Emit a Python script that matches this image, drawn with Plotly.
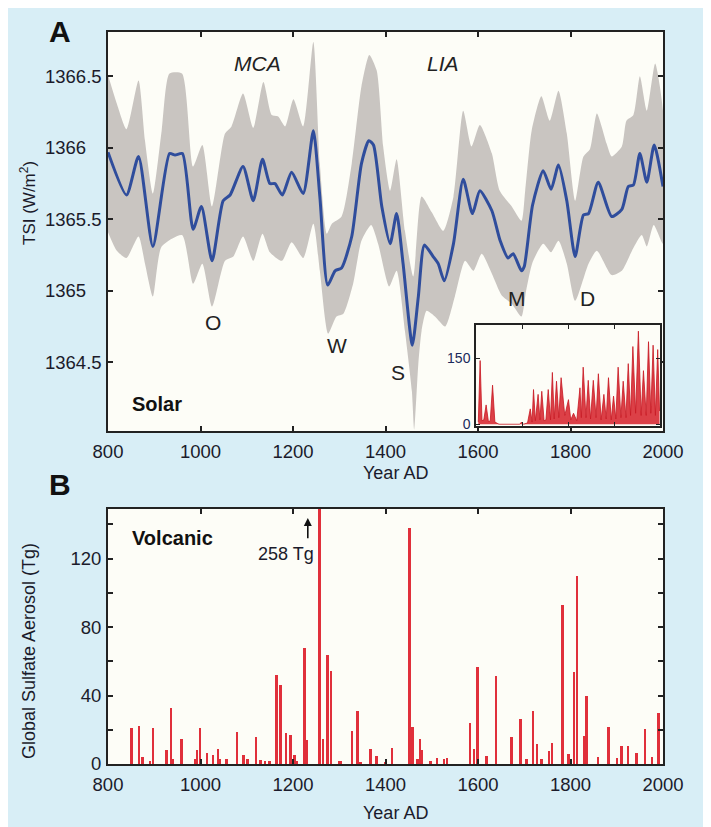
import plotly.graph_objects as go

W, H = 711, 827
PAGE_OFFSET = 8  # the page shows the figure 8 px right and down of the window corner

# ---------------- data ----------------
mean_years = [800, 840, 866, 897, 933, 945, 961, 984, 1002, 1025, 1049, 1064, 1092, 1114, 1134,
              1150, 1161, 1177, 1197, 1222, 1244, 1258, 1275, 1291, 1305, 1327, 1348, 1364, 1374,
              1392, 1410, 1424, 1438, 1458, 1471, 1484, 1503, 1514, 1527, 1547, 1568, 1588, 1604,
              1630, 1648, 1665, 1676, 1694, 1700, 1718, 1741, 1758, 1774, 1792, 1810, 1828, 1839,
              1860, 1889, 1911, 1925, 1936, 1950, 1965, 1981, 2000]
mean_tsi = [1365.97, 1365.67, 1365.94, 1365.31, 1365.96, 1365.95, 1365.96, 1365.43, 1365.59, 1365.21,
            1365.63, 1365.67, 1365.87, 1365.63, 1365.92, 1365.75, 1365.75, 1365.67, 1365.83, 1365.68,
            1366.12, 1365.66, 1365.04, 1365.14, 1365.16, 1365.38, 1365.89, 1366.05, 1366.02, 1365.59,
            1365.33, 1365.54, 1365.19, 1364.62, 1364.96, 1365.32, 1365.24, 1365.19, 1365.07, 1365.33,
            1365.78, 1365.54, 1365.70, 1365.56, 1365.35, 1365.23, 1365.26, 1365.14, 1365.17, 1365.60,
            1365.84, 1365.71, 1365.88, 1365.63, 1365.24, 1365.53, 1365.54, 1365.76, 1365.52, 1365.57,
            1365.73, 1365.74, 1365.96, 1365.76, 1366.02, 1365.73]

upper_years = [800, 819, 840, 866, 880, 897, 916, 933, 960, 984, 1004, 1025, 1053, 1067, 1092, 1114,
               1136, 1154, 1168, 1183, 1201, 1222, 1244, 1258, 1273, 1284, 1305, 1327, 1348, 1365,
               1381, 1395, 1410, 1424, 1442, 1460, 1478, 1500, 1525, 1547, 1568, 1586, 1604, 1630,
               1647, 1673, 1694, 1702, 1716, 1737, 1755, 1774, 1792, 1810, 1828, 1842, 1857, 1878,
               1889, 1911, 1921, 1936, 1950, 1965, 1983, 2000]
upper_tsi = [1366.51, 1366.31, 1366.13, 1366.47, 1366.05, 1365.68, 1366.12, 1366.52, 1366.52, 1365.87,
             1366.02, 1365.59, 1366.10, 1366.15, 1366.38, 1366.14, 1366.46, 1366.23, 1366.22, 1366.15,
             1366.34, 1366.15, 1366.74, 1365.89, 1365.40, 1365.47, 1365.52, 1365.89, 1366.43, 1366.65,
             1366.54, 1366.01, 1365.70, 1365.92, 1365.42, 1365.10, 1365.66, 1365.55, 1365.42, 1365.66,
             1366.26, 1366.01, 1366.16, 1365.96, 1365.70, 1365.59, 1365.49, 1365.70, 1366.12, 1366.36,
             1366.19, 1366.40, 1366.10, 1365.63, 1365.94, 1365.99, 1366.24, 1366.03, 1365.94, 1366.01,
             1366.19, 1366.23, 1366.50, 1366.26, 1366.59, 1366.26]

lower_years = [800, 819, 840, 866, 880, 897, 916, 960, 984, 1004, 1025, 1053, 1071, 1092, 1114, 1134,
               1150, 1176, 1197, 1222, 1244, 1258, 1276, 1294, 1309, 1330, 1348, 1369, 1384, 1408,
               1424, 1442, 1457, 1462, 1471, 1478, 1489, 1507, 1529, 1550, 1572, 1590, 1608, 1630,
               1651, 1673, 1694, 1704, 1718, 1741, 1758, 1774, 1792, 1810, 1839, 1857, 1889, 1911,
               1933, 1954, 1965, 1980, 2000]
lower_tsi = [1365.41, 1365.28, 1365.23, 1365.38, 1365.19, 1364.96, 1365.31, 1365.39, 1365.05, 1365.19,
             1364.89, 1365.21, 1365.24, 1365.38, 1365.21, 1365.40, 1365.27, 1365.21, 1365.34, 1365.23,
             1365.47, 1365.14, 1364.70, 1364.82, 1364.84, 1365.05, 1365.35, 1365.46, 1365.33, 1365.03,
             1365.14, 1364.72, 1364.30, 1364.03, 1364.49, 1364.72, 1364.86, 1364.82, 1364.75, 1364.96,
             1365.21, 1365.14, 1365.26, 1365.12, 1364.97, 1364.91, 1364.82, 1365.00, 1365.20, 1365.33,
             1365.27, 1365.35, 1365.19, 1364.93, 1365.19, 1365.28, 1365.11, 1365.14, 1365.28, 1365.39,
             1365.31, 1365.46, 1365.33]

sunspot_years = [1605, 1609, 1613, 1617, 1622, 1627, 1631, 1636, 1641, 1650, 1695, 1699, 1703, 1712,
                 1718, 1722, 1725, 1729, 1735, 1739, 1743, 1748, 1752, 1757, 1762, 1766, 1770, 1775,
                 1780, 1785, 1793, 1801, 1806, 1812, 1819, 1826, 1829, 1833, 1839, 1844, 1849, 1855,
                 1861, 1866, 1872, 1878, 1883, 1888, 1894, 1899, 1904, 1909, 1915, 1920, 1926, 1931,
                 1936, 1941, 1947, 1953, 1959, 1964, 1970, 1975, 1980, 1985, 1990, 1995, 1999]
sunspot_values = [5, 145, 8, 10, 44, 6, 8, 89, 5, 0, 0, 5, 0, 3, 35, 5, 79, 8, 68, 10, 75, 8, 10, 79,
                  10, 118, 12, 98, 15, 106, 20, 56, 10, 25, 8, 83, 15, 130, 15, 100, 12, 100, 15, 115,
                  10, 68, 12, 106, 10, 64, 12, 130, 15, 98, 15, 138, 20, 177, 25, 212, 20, 122, 20,
                  188, 25, 180, 20, 170, 30]

volcanic_years = [851, 868, 875, 891, 898, 927, 937, 941, 959, 990, 993, 999, 1015, 1028, 1038, 1042,
                  1057, 1080, 1093, 1102, 1120, 1130, 1140, 1150, 1165, 1174, 1185, 1195, 1204, 1209,
                  1225, 1230, 1258, 1265, 1275, 1283, 1300, 1304, 1328, 1340, 1346, 1368, 1381, 1400,
                  1415, 1452, 1459, 1470, 1475, 1480, 1498, 1512, 1527, 1534, 1583, 1592, 1599, 1619,
                  1640, 1673, 1692, 1705, 1719, 1728, 1738, 1754, 1761, 1783, 1796, 1808, 1815, 1831,
                  1835, 1860, 1883, 1901, 1911, 1925, 1943, 1962, 1977, 1991]
volcanic_tg = [21, 22, 4, 2, 21, 8, 33, 3, 14.5, 3, 8, 21, 6.5, 5.5, 9, 3, 3, 18.5, 5, 3, 16, 2.5, 2, 2,
               52, 46, 18, 17, 5, 2, 67.5, 14, 258, 14.5, 63.5, 54.5, 2, 2, 19.5, 31, 1, 8.5, 4.5, 1,
               9.5, 138, 21.5, 3, 14.5, 8, 1.5, 3.5, 3, 3.5, 24, 9, 56.5, 4.5, 51.5, 15.5, 26.5, 3, 31,
               11.5, 3, 7.5, 12.5, 93, 6, 53.5, 110, 16.5, 40, 4, 21.5, 3.5, 10.5, 10.5, 6.5, 20.5, 4, 30]

year_ticks = [800, 1000, 1200, 1400, 1600, 1800, 2000]
tsi_ticks = [1364.5, 1365, 1365.5, 1366, 1366.5]
tsi_tick_labels = ["1364.5", "1365", "1365.5", "1366", "1366.5"]
aerosol_ticks = [0, 20, 40, 60, 80, 100, 120, 140]
aerosol_tick_labels = ["0", "", "40", "", "80", "", "120", ""]
sunspot_ticks = [0, 150]
inset_year_ticks = [1700, 1800, 1900]

# ---------------- style ----------------
FONT = "Liberation Sans, Arial, Helvetica, sans-serif"
TXT = "#1b1b2b"
BG_BLUE = "#d8eef6"
PLOT_BG = "#fdfdf7"
BAND = "#c9c5c1"
LINE_BLUE = "#2f4d9c"
RED = "#e0303b"


def dx(px):
    return (px - PAGE_OFFSET) / W


def dy(py):
    return 1 - (py - PAGE_OFFSET) / H


fig = go.Figure()

# Panel A band
fig.add_trace(go.Scatter(
    x=upper_years + lower_years[::-1], y=upper_tsi + lower_tsi[::-1],
    fill="toself", fillcolor=BAND, mode="lines", line=dict(width=0, shape="spline", smoothing=0.6),
    hoverinfo="skip", showlegend=False, xaxis="x", yaxis="y"))
# Panel A mean
fig.add_trace(go.Scatter(
    x=mean_years, y=mean_tsi, mode="lines", line=dict(color=LINE_BLUE, width=3, shape="spline", smoothing=0.6),
    showlegend=False, xaxis="x", yaxis="y"))
# Inset sunspots
fig.add_trace(go.Scatter(
    x=sunspot_years, y=sunspot_values, mode="lines", fill="tozeroy",
    fillcolor="rgba(214,30,40,0.85)", line=dict(color="#c81822", width=0.8),
    showlegend=False, xaxis="x2", yaxis="y2"))
# Panel B volcanic
fig.add_trace(go.Bar(
    x=volcanic_years, y=volcanic_tg, width=4.3, marker=dict(color=RED, line=dict(width=0)),
    showlegend=False, xaxis="x3", yaxis="y3"))

axis_common = dict(showgrid=False, zeroline=False, showline=True, linecolor="#222222", linewidth=2,
                   mirror="ticks", ticks="inside", ticklen=5, tickwidth=2, tickcolor="#222222",
                   automargin=False,
                   tickfont=dict(family=FONT, size=18.5, color=TXT))

fig.update_layout(
    template="none",
    width=W, height=H, autosize=False,
    margin=dict(l=0, r=0, t=0, b=0, pad=0),
    paper_bgcolor=BG_BLUE, plot_bgcolor=PLOT_BG,
    bargap=0,
    xaxis=dict(axis_common, domain=[dx(108), dx(663)], range=[800, 2000], tickvals=year_ticks,
               anchor="y", ticklabelstandoff=3),
    yaxis=dict(axis_common, domain=[dy(431), dy(32)], range=[1364.02, 1366.81], tickvals=tsi_ticks,
               showticklabels=False, anchor="x"),
    xaxis2=dict(axis_common, domain=[dx(476), dx(660)], range=[1600, 2000], tickvals=inset_year_ticks,
                showticklabels=False, anchor="y2", linewidth=1.5, ticklen=4, tickwidth=1),
    yaxis2=dict(axis_common, domain=[dy(426), dy(325)], range=[-4, 226], tickvals=sunspot_ticks,
                anchor="x2", linewidth=1.5, ticklen=4, tickwidth=1, ticklabelstandoff=1,
                tickfont=dict(family=FONT, size=14, color="#1a2a5c")),
    xaxis3=dict(axis_common, domain=[dx(108), dx(663)], range=[800, 2000], tickvals=year_ticks,
                anchor="y3", ticklabelstandoff=3),
    yaxis3=dict(axis_common, domain=[dy(764), dy(509)], range=[0, 149], tickvals=aerosol_ticks,
                ticktext=aerosol_tick_labels, anchor="x3", ticklabelstandoff=1),
)

ann = []
# Panel A tick labels (left-aligned, as in the original)
for v, t in zip(tsi_ticks, tsi_tick_labels):
    ann.append(dict(x=dx(43), xref="paper", y=v, yref="y", text=t, showarrow=False, xanchor="left",
                    yanchor="middle", font=dict(family=FONT, size=18.5, color=TXT)))


def ptext(x, y, text, size, color=TXT, angle=0):
    return dict(x=dx(x), y=dy(y), xref="paper", yref="paper", text=text, showarrow=False,
                xanchor="center", yanchor="middle", textangle=angle,
                font=dict(family=FONT, size=size, color=color))


def dtext(x, y, text, size, xref="x", yref="y", color="#222222", xanchor="center"):
    return dict(x=x, y=y, xref=xref, yref=yref, text=text, showarrow=False, xanchor=xanchor,
                yanchor="middle", font=dict(family=FONT, size=size, color=color))


ann += [
    ptext(60, 32, "<b>A</b>", 30, "#111111"),
    ptext(60, 484, "<b>B</b>", 30, "#111111"),
    ptext(395, 473, "Year AD", 18),
    ptext(396, 813, "Year AD", 18),
    ptext(28, 203, "TSI (W/m<sup>2</sup>)", 17, angle=-90),
    ptext(29, 651, "Global Sulfate Aerosol (Tg)", 18, angle=-90),
    dtext(1124, 1366.59, "<i>MCA</i>", 21),
    dtext(1524, 1366.59, "<i>LIA</i>", 21),
    dtext(1027, 1364.78, "O", 21),
    dtext(1295, 1364.62, "W", 21),
    dtext(1427, 1364.43, "S", 21),
    dtext(1684, 1364.95, "M", 21),
    dtext(1836, 1364.95, "D", 21),
    dtext(848, 1364.21, "<b>Solar</b>", 20, color="#111111", xanchor="left"),
    dtext(848, 132, "<b>Volcanic</b>", 20, xref="x3", yref="y3", color="#111111", xanchor="left"),
    dtext(1185, 122.6, "258 Tg", 18, xref="x3", yref="y3", color=TXT),
    dict(x=1232, y=143.7, xref="x3", yref="y3", ax=1232, ay=130.2, axref="x3", ayref="y3", text=" ",
         showarrow=True, arrowhead=2, arrowsize=1, arrowwidth=1.6, arrowcolor="#111111",
         font=dict(size=2)),
]
fig.update_layout(annotations=ann)

fig.write_html("out.html")
